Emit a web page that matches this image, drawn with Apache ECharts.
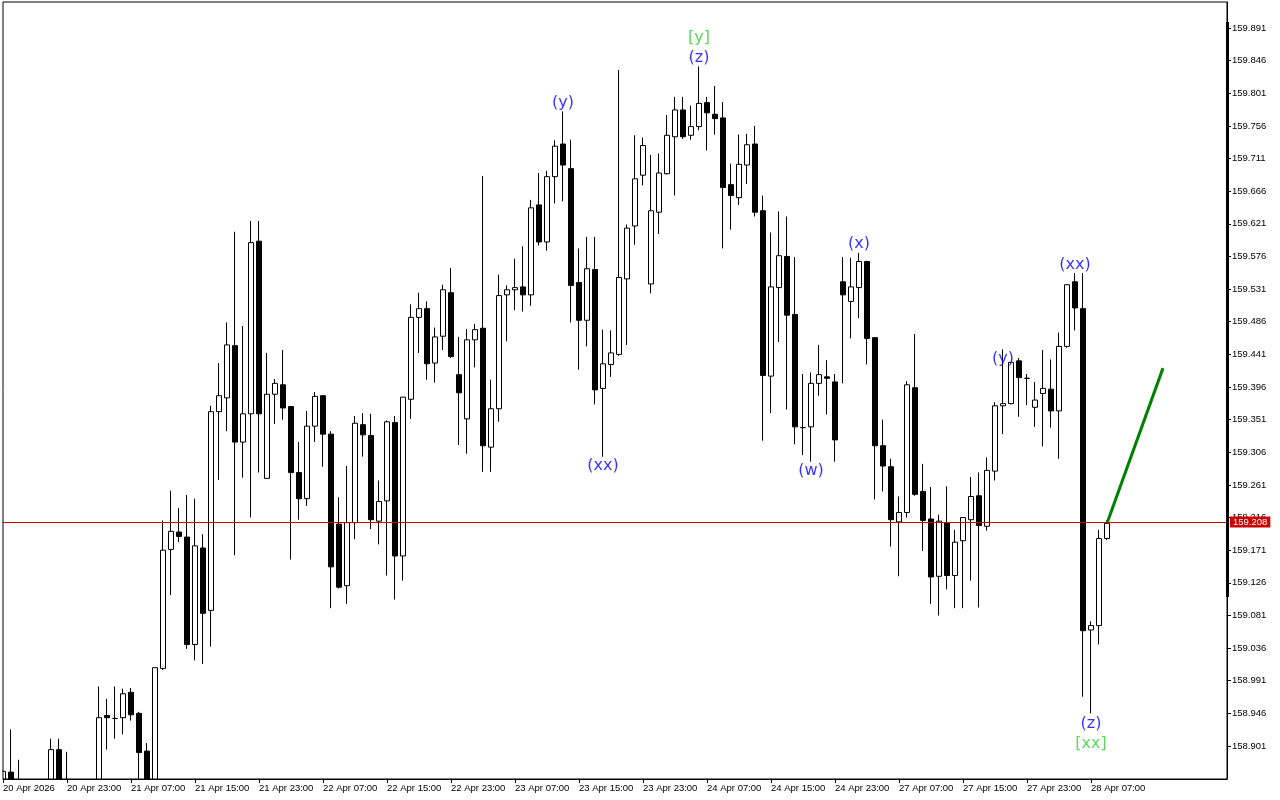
<!DOCTYPE html>
<html><head><meta charset="utf-8">
<script src="https://cdn.jsdelivr.net/npm/echarts@6/dist/echarts.min.js"></script>
<style>html,body{margin:0;padding:0;background:#fff}#c{width:1280px;height:800px}</style>
</head><body><div id="c"></div>
<script>
const timeLabels = ['20 Apr 2026','20 Apr 23:00','21 Apr 07:00','21 Apr 15:00','21 Apr 23:00','22 Apr 07:00','22 Apr 15:00','22 Apr 23:00','23 Apr 07:00','23 Apr 15:00','23 Apr 23:00','24 Apr 07:00','24 Apr 15:00','24 Apr 23:00','27 Apr 07:00','27 Apr 15:00','27 Apr 23:00','28 Apr 07:00'];
const priceTicks = [158.901,158.946,158.991,159.036,159.081,159.126,159.171,159.216,159.261,159.306,159.351,159.396,159.441,159.486,159.531,159.576,159.621,159.666,159.711,159.756,159.801,159.846,159.891];
const opens = [158.840,158.865,158.845,158.840,158.830,158.835,158.845,158.896,158.848,158.835,
 158.840,158.845,158.850,158.943,158.939,158.940,158.975,158.946,158.894,158.850,
 159.008,159.172,159.196,159.189,159.041,159.174,159.088,159.362,159.381,159.453,
 159.320,159.359,159.597,159.270,159.386,159.399,159.369,159.278,159.242,159.342,
 159.384,159.331,159.207,159.122,159.209,159.344,159.329,159.211,159.239,159.347,
 159.163,159.379,159.492,159.504,159.429,159.466,159.526,159.413,159.352,159.461,
 159.477,159.313,159.366,159.523,159.530,159.534,159.523,159.647,159.596,159.686,
 159.731,159.697,159.540,159.488,159.558,159.394,159.427,159.441,159.545,159.618,
 159.688,159.538,159.637,159.690,159.741,159.778,159.743,159.755,159.788,159.772,
 159.767,159.675,159.657,159.702,159.731,159.639,159.411,159.533,159.576,159.496,
 159.340,159.341,159.401,159.410,159.403,159.541,159.514,159.533,159.569,159.464,
 159.315,159.286,159.210,159.223,159.395,159.252,159.214,159.135,159.209,159.136,
 159.184,159.213,159.246,159.204,159.280,159.370,159.373,159.432,159.408,159.368,
 159.387,159.393,159.363,159.452,159.541,159.504,159.061,159.067,159.187];
const highs = [158.867,158.924,158.882,158.850,158.848,158.850,158.911,158.911,158.893,158.852,
 158.853,158.854,158.983,158.966,158.983,158.980,158.981,158.948,158.905,159.009,
 159.212,159.253,159.229,159.247,159.242,159.193,159.370,159.429,159.485,159.610,
 159.480,159.625,159.625,159.443,159.407,159.447,159.370,159.320,159.363,159.389,
 159.385,159.335,159.244,159.287,159.356,159.360,159.359,159.267,159.350,159.356,
 159.382,159.510,159.526,159.514,159.478,159.537,159.560,159.465,159.476,159.483,
 159.687,159.406,159.551,159.536,159.573,159.590,159.654,159.691,159.694,159.736,
 159.776,159.737,159.587,159.603,159.603,159.475,159.474,159.833,159.620,159.743,
 159.740,159.716,159.718,159.771,159.796,159.796,159.784,159.838,159.796,159.811,
 159.789,159.704,159.744,159.745,159.756,159.660,159.609,159.638,159.631,159.575,
 159.414,159.416,159.454,159.433,159.414,159.575,159.574,159.581,159.570,159.464,
 159.351,159.297,159.245,159.404,159.469,159.290,159.258,159.220,159.259,159.199,
 159.216,159.272,159.278,159.299,159.375,159.448,159.430,159.436,159.414,159.403,
 159.447,159.434,159.471,159.537,159.553,159.553,159.073,159.199,159.212];
const lows = [158.835,158.840,158.830,158.820,158.815,158.820,158.835,158.830,158.825,158.820,
 158.825,158.830,158.845,158.896,158.911,158.917,158.936,158.850,158.840,158.845,
 159.006,159.109,159.182,159.035,159.019,159.014,159.038,159.268,159.335,159.164,
 159.271,159.216,159.278,159.270,159.345,159.351,159.158,159.213,159.232,159.320,
 159.286,159.091,159.118,159.097,159.186,159.300,159.200,159.179,159.136,159.103,
 159.129,159.352,159.443,159.406,159.402,159.447,159.436,159.316,159.304,159.423,
 159.279,159.279,159.348,159.459,159.502,159.500,159.508,159.591,159.584,159.649,
 159.652,159.485,159.420,159.452,159.372,159.300,159.410,159.439,159.454,159.592,
 159.674,159.525,159.607,159.689,159.660,159.738,159.737,159.750,159.722,159.744,
 159.587,159.613,159.647,159.676,159.631,159.322,159.360,159.458,159.365,159.317,
 159.302,159.293,159.384,159.358,159.293,159.401,159.463,159.491,159.427,159.241,
 159.252,159.176,159.135,159.216,159.246,159.170,159.097,159.081,159.117,159.091,
 159.091,159.129,159.092,159.198,159.267,159.331,159.372,159.355,159.371,159.341,
 159.314,159.340,159.297,159.450,159.474,158.969,158.946,159.041,159.185];
const closes = [158.866,158.852,158.840,158.830,158.835,158.845,158.896,158.848,158.835,158.840,
 158.845,158.850,158.940,158.940,158.939,158.973,158.944,158.892,158.850,159.009,
 159.171,159.197,159.190,159.041,159.177,159.084,159.362,159.384,159.454,159.320,
 159.359,159.595,159.359,159.386,159.401,159.367,159.278,159.242,159.342,159.383,
 159.331,159.148,159.120,159.209,159.346,159.330,159.213,159.238,159.348,159.163,
 159.382,159.492,159.504,159.428,159.465,159.530,159.438,159.388,159.461,159.475,
 159.315,159.366,159.522,159.530,159.533,159.523,159.643,159.596,159.686,159.728,
 159.702,159.536,159.488,159.559,159.392,159.428,159.443,159.547,159.615,159.683,
 159.729,159.639,159.691,159.743,159.778,159.741,159.755,159.787,159.774,159.766,
 159.671,159.660,159.703,159.730,159.637,159.412,159.534,159.577,159.495,159.341,
 159.340,159.401,159.413,159.408,159.323,159.523,159.534,159.569,159.463,159.315,
 159.287,159.213,159.223,159.399,159.248,159.212,159.134,159.211,159.136,159.182,
 159.216,159.245,159.205,159.281,159.370,159.373,159.430,159.409,159.408,159.378,
 159.394,159.363,159.452,159.537,159.505,159.060,159.067,159.187,159.208];
const currentPrice = 159.208;
const projectionBars = [138, 145];
const projectionPrices = [159.208, 159.422];
const blueWaveText = ['(y)','(z)','(xx)','(w)','(x)','(y)','(xx)','(z)'];
const blueWaveBar = [70, 87, 75, 101, 107, 125, 134, 136];
const blueWavePrice = [159.788, 159.850, 159.287, 159.280, 159.593, 159.435, 159.564, 158.931];
const greenWaveText = ['[y]','[xx]'];
const greenWaveBar = [87, 136];
const greenWavePrice = [159.877, 158.904];
const slotCount = 154;

const cats = Array.from({length: slotCount}, (_, i) => String(i));
const candles = opens.map((o, i) => [o, closes[i], lows[i], highs[i]]);
const showTime = (i) => i % 8 === 0 && (i / 8) < timeLabels.length;
const axisFont = {fontFamily: 'Liberation Sans', fontSize: 9.5, color: '#000'};

const chart = echarts.init(document.getElementById('c'), null, {renderer: 'canvas'});
chart.setOption({
  animation: false,
  backgroundColor: '#fff',
  grid: {left: 2, right: 53, top: 2, bottom: 21, show: true, borderColor: '#000', borderWidth: 1, backgroundColor: 'transparent', z: 20},
  xAxis: {
    type: 'category', data: cats, boundaryGap: false, z: 20,
    axisLine: {lineStyle: {color: '#000', width: 1}},
    axisTick: {show: true, length: 4, interval: showTime, lineStyle: {color: '#000'}},
    axisLabel: Object.assign({interval: showTime, formatter: (v, i) => timeLabels[i / 8] || '', align: 'left', margin: 4}, axisFont),
    splitLine: {show: false}
  },
  yAxis: {
    type: 'value', position: 'right', min: 158.8555, max: 159.9268,
    axisLine: {show: true, lineStyle: {color: '#000', width: 1}},
    axisTick: {show: true, length: 4, customValues: priceTicks, lineStyle: {color: '#000'}},
    axisLabel: Object.assign({customValues: priceTicks, formatter: (v) => v.toFixed(3), margin: 5}, axisFont),
    splitLine: {show: false}
  },
  graphic: [
    {type: 'rect', shape: {x: 0, y: 779.5, width: 1226.5, height: 21}, style: {fill: '#fff'}, z: 15, silent: true},
    {type: 'rect', shape: {x: 0, y: 0, width: 2.5, height: 800}, style: {fill: '#fff'}, z: 15, silent: true},
    {type: 'rect', shape: {x: 1226, y: 22, width: 3, height: 575}, style: {fill: '#000'}, z: 30, silent: true}
  ],
  series: [
    {
      type: 'line', z: 1, data: [], symbol: 'none',
      markLine: {
        symbol: 'none', silent: true, animation: false,
        data: [{yAxis: currentPrice}],
        lineStyle: {color: '#cc0000', width: 1, type: 'solid'},
        label: {show: true, position: 'end', formatter: currentPrice.toFixed(3), backgroundColor: '#cc0000', color: '#fff',
          padding: [1, 3, 0, 3], distance: 3, fontFamily: 'Liberation Sans', fontSize: 9.5}
      }
    },
    {
      type: 'candlestick', z: 3, data: candles, barWidth: 5,
      itemStyle: {color: '#fff', color0: '#000', borderColor: '#000', borderColor0: '#000', borderColorDoji: '#000', borderWidth: 1}
    },
    {
      type: 'line', z: 4, data: projectionBars.map((b, i) => [b, projectionPrices[i]]),
      symbol: 'none', connectNulls: true, lineStyle: {color: '#008000', width: 3}
    },
    {
      type: 'scatter', z: 5, symbolSize: 1, itemStyle: {color: 'rgba(0,0,0,0)'},
      data: blueWaveText.map((t, i) => ({name: t, value: [blueWaveBar[i], blueWavePrice[i]]})),
      label: {show: true, position: 'inside', formatter: '{b}', color: '#0000ff', fontFamily: 'DejaVu Sans', fontSize: 16}
    },
    {
      type: 'scatter', z: 5, symbolSize: 1, itemStyle: {color: 'rgba(0,0,0,0)'},
      data: greenWaveText.map((t, i) => ({name: t, value: [greenWaveBar[i], greenWavePrice[i]]})),
      label: {show: true, position: 'inside', formatter: '{b}', color: '#32cd32', fontFamily: 'DejaVu Sans', fontSize: 16}
    }
  ]
});
</script>
</body></html>
